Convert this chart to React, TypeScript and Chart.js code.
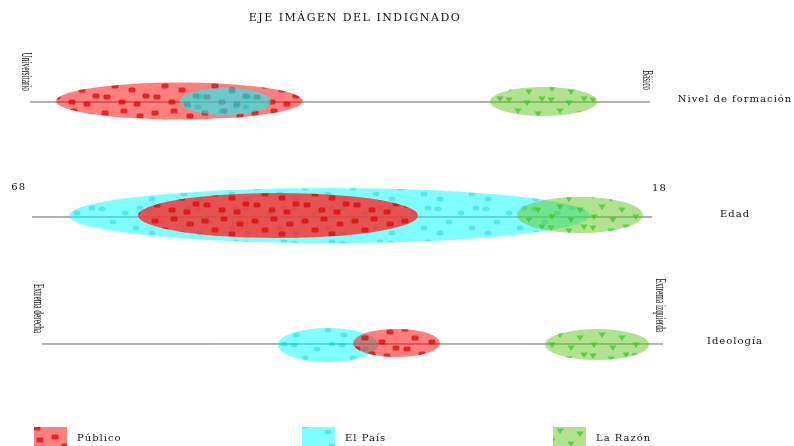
import React, { useEffect, useRef } from 'react';
import { Chart, registerables } from 'chart.js';

Chart.register(...registerables);

// ---------- data (x in % of width, y in % of height) ----------
const TITLE = 'EJE IMÁGEN DEL INDIGNADO';
const SERIES = ['Público', 'El País', 'La Razón'];
const AXIS_NAMES = ['Nivel de formación', 'Edad', 'Ideología'];
const AXIS_Y = [22.87, 48.65, 77.13];
const AXIS_START = [3.78, 4.03, 5.29];
const AXIS_END = [81.86, 82.12, 83.5];
const LEFT_POLES = ['Universitario', '68', 'Extrema derecha'];
const RIGHT_POLES = ['Básico', '18', 'Extrema izquierda'];

// Público
const PUBLICO_CX = [22.61, 35.01, 49.94];
const PUBLICO_HALF_W = [15.55, 17.63, 5.48];
const PUBLICO_CY = [22.65, 48.32, 76.91];
const PUBLICO_HALF_H = [4.15, 5.04, 3.14];
// El País
const PAIS_CX = [28.4, 41.5, 41.31];
const PAIS_HALF_W = [5.73, 32.81, 6.3];
const PAIS_CY = [22.76, 48.32, 77.35];
const PAIS_HALF_H = [3.03, 6.17, 3.81];
// La Razón
const RAZON_CX = [68.45, 73.05, 75.19];
const RAZON_HALF_W = [6.74, 7.93, 6.55];
const RAZON_CY = [22.76, 48.21, 77.24];
const RAZON_HALF_H = [3.25, 4.04, 3.48];

// ---------- styles ----------
const FILLS = [
  ['rgba(255,0,0,0.5)', 'rgba(255,40,40,0.8)', 'rgba(255,0,0,0.5)'],
  ['rgba(0,255,255,0.58)', 'rgba(0,255,255,0.5)', 'rgba(0,255,255,0.5)'],
  ['rgba(100,200,30,0.5)', 'rgba(100,200,30,0.5)', 'rgba(100,200,30,0.5)'],
];
const LEGEND_FILLS = ['rgba(255,0,0,0.5)', 'rgba(0,255,255,0.5)', 'rgba(100,200,30,0.5)'];
const TEXT = '#111';
const SERIF = '"DejaVu Serif", serif';

function makePattern(kind: number): CanvasPattern | string {
  const c = document.createElement('canvas');
  const g = c.getContext('2d');
  if (!g) return 'transparent';
  if (kind === 0) {
    c.width = 50; c.height = 36;
    g.fillStyle = 'rgba(215,10,10,0.75)';
    const pts = [[5, 5], [24, 3], [40, 8], [15, 14], [32, 18], [46, 24], [7, 25], [22, 30], [37, 32]];
    for (const [x, y] of pts) {
      g.beginPath();
      (g as any).roundRect(x - 3.5, y - 2.5, 7, 5, 1.5);
      g.fill();
    }
  } else if (kind === 1) {
    c.width = 48; c.height = 34;
    g.fillStyle = 'rgba(0,185,185,0.32)';
    const pts = [[6, 5], [29, 9], [17, 18], [40, 24], [8, 29], [44, 4]];
    for (const [x, y] of pts) {
      g.beginPath();
      g.ellipse(x, y, 3.5, 2.5, 0, 0, Math.PI * 2);
      g.fill();
    }
  } else {
    c.width = 42; c.height = 32;
    g.fillStyle = 'rgba(60,200,40,0.75)';
    const pts = [[5, 4], [23, 7], [14, 15], [34, 18], [6, 25], [25, 28], [38, 3]];
    for (const [x, y] of pts) {
      g.beginPath();
      g.moveTo(x - 3.6, y - 2.5);
      g.lineTo(x + 3.6, y - 2.5);
      g.lineTo(x, y + 3);
      g.closePath();
      g.fill();
    }
  }
  const p = g.createPattern(c, 'repeat');
  return p || 'transparent';
}

function zip(cx: number[], hw: number[], cy: number[], hh: number[]) {
  return cx.map((v, i) => ({ x: v, y: cy[i], rx: hw[i], ry: hh[i] }));
}

export default function App() {
  const ref = useRef<HTMLCanvasElement | null>(null);

  useEffect(() => {
    const canvas = ref.current;
    if (!canvas) return;
    const patterns = [0, 1, 2].map(makePattern);

    const ellipseData = [
      zip(PUBLICO_CX, PUBLICO_HALF_W, PUBLICO_CY, PUBLICO_HALF_H),
      zip(PAIS_CX, PAIS_HALF_W, PAIS_CY, PAIS_HALF_H),
      zip(RAZON_CX, RAZON_HALF_W, RAZON_CY, RAZON_HALF_H),
    ];

    const datasets: any[] = [];
    AXIS_Y.forEach((yv, i) => {
      datasets.push({
        type: 'line',
        label: AXIS_NAMES[i],
        data: [{ x: AXIS_START[i], y: yv }, { x: AXIS_END[i], y: yv }],
        borderColor: '#666',
        borderWidth: 1,
        pointRadius: 0,
        fill: false,
      });
    });
    SERIES.forEach((name, i) => {
      datasets.push({
        type: 'scatter',
        label: name,
        data: ellipseData[i],
        pointRadius: 0,
        isEllipse: true,
        seriesIndex: i,
      });
    });

    const drawRotated = (ctx: CanvasRenderingContext2D, text: string, x: number, yBottom: number) => {
      ctx.save();
      ctx.translate(x, yBottom);
      ctx.rotate(Math.PI / 2);
      ctx.scale(0.52, 1);
      ctx.font = '14px "Liberation Serif", serif';
      (ctx as any).letterSpacing = '0px';
      ctx.textAlign = 'right';
      ctx.textBaseline = 'middle';
      ctx.fillStyle = TEXT;
      ctx.fillText(text, 0, 0);
      ctx.restore();
    };

    const plugin = {
      id: 'indignado',
      afterDatasetsDraw(chart: any) {
        const { ctx, scales } = chart;
        const xs = scales.x, ys = scales.y;
        const items: any[] = [];
        chart.data.datasets.forEach((ds: any) => {
          if (!ds.isEllipse) return;
          ds.data.forEach((p: any, row: number) => {
            const cx = xs.getPixelForValue(p.x);
            const cy = ys.getPixelForValue(p.y);
            const rx = Math.abs(xs.getPixelForValue(p.x + p.rx) - cx);
            const ry = Math.abs(ys.getPixelForValue(p.y + p.ry) - cy);
            items.push({ s: ds.seriesIndex, row, cx, cy, rx, ry });
          });
        });
        items.sort((a, b) => b.rx * b.ry - a.rx * a.ry);
        ctx.save();
        for (const it of items) {
          ctx.beginPath();
          ctx.ellipse(it.cx, it.cy, it.rx, it.ry, 0, 0, Math.PI * 2);
          ctx.fillStyle = FILLS[it.s][it.row];
          ctx.fill();
          ctx.save();
          ctx.clip();
          ctx.fillStyle = patterns[it.s];
          ctx.fillRect(it.cx - it.rx, it.cy - it.ry, it.rx * 2, it.ry * 2);
          ctx.restore();
        }
        ctx.restore();

        // title
        ctx.save();
        ctx.fillStyle = TEXT;
        ctx.font = '11px ' + SERIF;
        (ctx as any).letterSpacing = '1.5px';
        ctx.textAlign = 'center';
        ctx.textBaseline = 'middle';
        ctx.fillText(TITLE, 355, 18);

        // axis names & poles
        AXIS_Y.forEach((yv, i) => {
          const py = ys.getPixelForValue(yv);
          const x0 = xs.getPixelForValue(AXIS_START[i]);
          const x1 = xs.getPixelForValue(AXIS_END[i]);
          ctx.font = '10px ' + SERIF;
          (ctx as any).letterSpacing = '1px';
          ctx.textAlign = 'center';
          ctx.textBaseline = 'middle';
          ctx.fillText(AXIS_NAMES[i], 735, py - 3);
          const numeric = /^\d+$/.test(LEFT_POLES[i]);
          if (numeric) {
            ctx.textAlign = 'right';
            ctx.fillText(LEFT_POLES[i], x0 - 6, py - 30);
            ctx.textAlign = 'left';
            ctx.fillText(RIGHT_POLES[i], x1, py - 29);
          } else {
            drawRotated(ctx, LEFT_POLES[i], x0 - 4, py - 11);
            drawRotated(ctx, RIGHT_POLES[i], x1 - 3, py - 12);
          }
        });
        ctx.restore();

        // legend
        const legendX = [34, 302, 553];
        ctx.save();
        SERIES.forEach((name, i) => {
          const lx = legendX[i];
          ctx.fillStyle = LEGEND_FILLS[i];
          ctx.fillRect(lx, 427, 33, 19);
          ctx.fillStyle = patterns[i];
          ctx.fillRect(lx, 427, 33, 19);
          ctx.fillStyle = TEXT;
          ctx.font = '10px ' + SERIF;
          (ctx as any).letterSpacing = '1px';
          ctx.textAlign = 'left';
          ctx.textBaseline = 'middle';
          ctx.fillText(name, lx + 43, 438);
        });
        ctx.restore();
      },
    };

    const chart = new Chart(canvas, {
      type: 'scatter',
      data: { datasets },
      options: {
        animation: false,
        responsive: false,
        devicePixelRatio: 1,
        layout: { padding: 0 },
        plugins: { legend: { display: false }, title: { display: false }, tooltip: { enabled: false } },
        scales: {
          x: { type: 'linear', min: 0, max: 100, display: false },
          y: { type: 'linear', min: 0, max: 100, reverse: true, display: false },
        },
      },
      plugins: [plugin],
    } as any);
    return () => chart.destroy();
  }, []);

  return (
    <div style={{ position: 'fixed', left: 0, top: 0, width: 794, height: 446, background: '#fff' }}>
      <canvas ref={ref} width={794} height={446} />
    </div>
  );
}
